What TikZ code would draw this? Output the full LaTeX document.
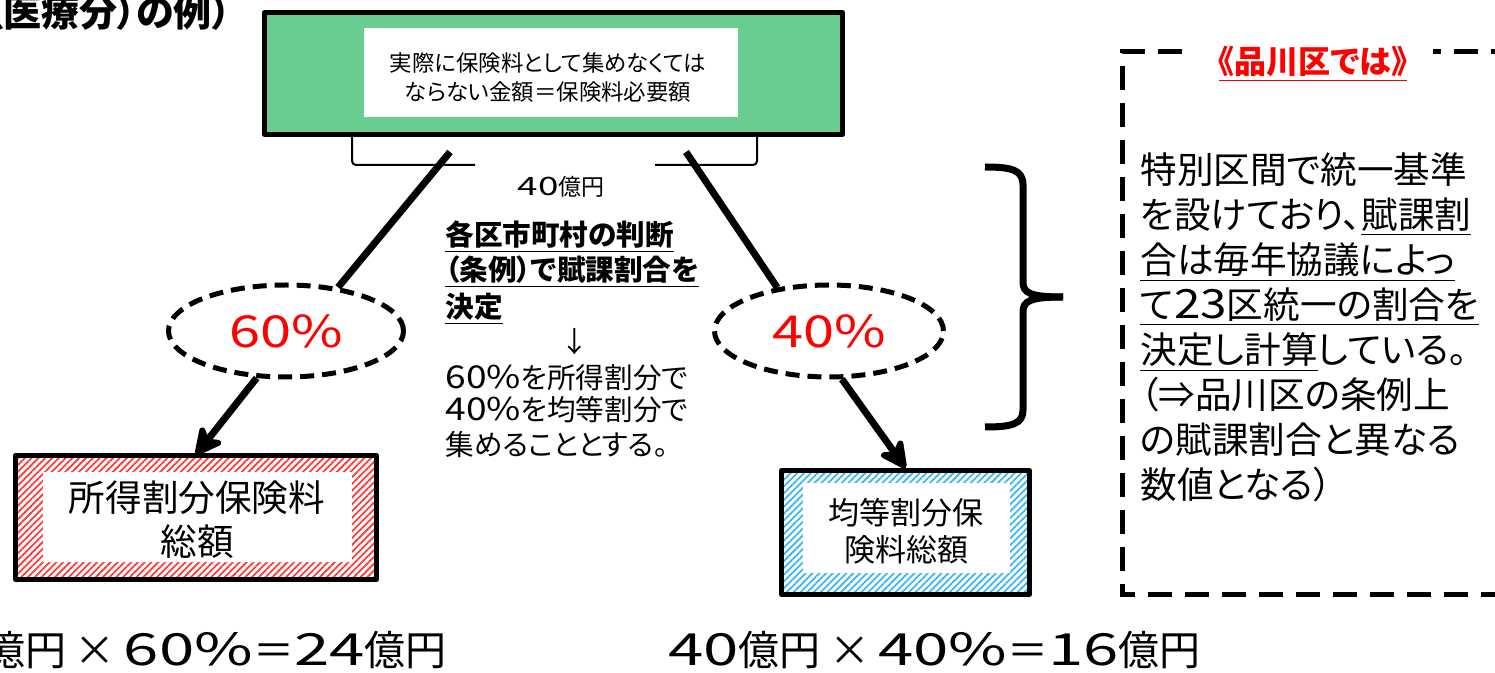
\documentclass[tikz,border=0pt]{standalone}
\usepackage{fontspec}
\setmainfont{Noto Sans CJK JP}[RawFeature=+palt]
\newfontfamily\jpmono{Noto Sans CJK JP}
\usetikzlibrary{shapes.geometric,arrows.meta,patterns.meta}
\definecolor{boxgreen}{RGB}{105,205,145}
\definecolor{hatchred}{RGB}{255,60,60}
\definecolor{hatchblue}{RGB}{60,185,235}
\newcommand{\myfs}[2]{\fontsize{#1}{#2}\selectfont}
\newcommand{\wdg}[2][1.6]{\scalebox{#1}[1.1]{#2}}
\newcommand{\wdgb}[1]{\scalebox{1.55}[1.08]{#1}}
\newcommand{\tms}{\kern0.2em×\kern0.2em}
\begin{document}
\begin{tikzpicture}[x=0.5pt,y=-0.5pt,
  frame/.style={draw=black,line width=2.5pt,inner sep=0pt,line join=round},
  pct/.style={ellipse,draw=black,line width=2.5pt,dash pattern=on 7pt off 4pt,inner sep=0pt,text=red,font=\jpmono\myfs{20}{24}},
  thickline/.style={line width=3.5pt},
  arr/.style={line width=3.5pt,-{Stealth[length=17pt,width=17pt,inset=5pt,round]}},
  txt/.style={anchor=base west,inner sep=0pt},
  midfont/.style={font=\myfs{14.3}{17}},
  midbold/.style={font=\bfseries\myfs{14.3}{17}},
  panelfont/.style={font=\myfs{18.3}{22}},
  calcfont/.style={inner sep=0pt,font=\jpmono\myfs{20.5}{24}},
  hatch/.style={pattern={Lines[angle=45,distance=2.4pt,line width=0.9pt]}},
  bracketline/.style={line width=1pt,rounded corners=2pt},
  panelline/.style={line width=2.5pt,dash pattern=on 12pt off 6.5pt},
  ]
\useasboundingbox (0,0) rectangle (1495,673);

% title (cut at left)
\node[txt,font=\bfseries\myfs{19}{22}] (title) at (-16,27) {（医療分）の例）};

% top box
\node[frame,fill=boxgreen,minimum width=289pt,minimum height=61pt] (top) at (553.5,73.5) {};
\fill[white] (364,28) rectangle (738,117);
\node[font=\myfs{11.2}{14.5},align=center,inner sep=0pt] (toptext) at (548,77.5) {実際に保険料として集めなくては\\ならない金額＝保険料必要額};

% bracket under the top box
\draw[bracketline] (352,137) -- (352,165) -- (475,165);
\draw[bracketline] (655,165) -- (757,165) -- (757,137);
\node[font=\jpmono\myfs{11.5}{14},inner sep=0pt] (amt) at (561,187) {\wdg{40}億円};

% ellipses
\node[pct,minimum width=117.5pt,minimum height=46pt] (e60) at (286,331) {\wdg[1.4]{60\%}};
\node[pct,minimum width=114.5pt,minimum height=46pt] (e40) at (829,331) {\wdg[1.4]{40\%}};

\coordinate (tl) at (450,152);
\coordinate (tr) at (686,152);
\draw[thickline] (tl) -- (e60.40);
\draw[thickline] (tr) -- (e40.140);

% result boxes
\node[frame,hatch,pattern color=hatchred,minimum width=180.5pt,minimum height=62pt] (lbox) at (196,517.5) {};
\fill[white] (43,472) rectangle (352,562);
\node[font=\myfs{18.3}{22},align=center,inner sep=0pt] (ltext) at (197,520) {所得割分保険料\\総額};

\node[frame,hatch,pattern color=hatchblue,minimum width=124pt,minimum height=62pt] (rbox) at (905.5,532.5) {};
\fill[white] (803,483) rectangle (1010,573);
\node[font=\myfs{15.5}{18.5},align=center,inner sep=0pt] (rtext) at (906,531.5) {均等割分保\\険料総額};

\draw[arr] (e60.238) -- (lbox.north);
\draw[arr] (e40.285) -- (rbox.north);

% middle text
\node[txt,midbold] (m1) at (445,246) {\underline{各区市町村の判断}};
\node[txt,midbold] (m2) at (445,281) {\underline{（条例）で賦課割合を}};
\node[txt,midbold] (m3) at (445,318) {\underline{決定}};
\node[anchor=base,inner sep=0pt,midfont] (m4) at (575,353) {↓};
\node[txt,midfont] (m5) at (445,389) {\wdg[1.3]{60\%}を所得割分で};
\node[txt,midfont] (m6) at (445,421) {\wdg[1.3]{40\%}を均等割分で};
\node[txt,midfont] (m7) at (445,456) {集めることとする。};

% brace
\draw[line width=3.5pt] (985,167) .. controls (1012,167) and (1023,170) .. (1023,185) -- (1023,282) .. controls (1023,293) and (1030,297) .. (1063,297);
\draw[line width=3.5pt] (1063,297) .. controls (1030,297) and (1023,301) .. (1023,312) -- (1023,410) .. controls (1023,424) and (1012,427) .. (985,427);

% dashed panel
\draw[panelline] (1515,52) -- (1122,52) -- (1122,595) -- (1515,595);
\node[fill=white,inner xsep=13pt,inner ysep=3pt,text=red,font=\bfseries\myfs{16}{18}] (ttl) at (1313,64) {\underline{《品川区では》}};

\node[txt,panelfont] (r1) at (1140,184) {特別区間で統一基準};
\node[txt,panelfont] (r2) at (1140,229) {を設けており、\underline{賦課割}};
\node[txt,panelfont] (r3) at (1140,274) {\underline{合は毎年協議によっ}};
\node[txt,panelfont] (r4) at (1140,319) {\underline{て\wdg[1.3]{23}区統一の割合を}};
\node[txt,panelfont] (r5) at (1140,364) {\underline{決定し計算}している。};
\node[txt,panelfont] (r6) at (1140,409) {（⇒品川区の条例上};
\node[txt,panelfont] (r7) at (1140,454) {の賦課割合と異なる};
\node[txt,panelfont] (r8) at (1140,499) {数値となる）};

% bottom calculations
\node[calcfont,anchor=base east] (calc1) at (447,665) {\wdgb{40}億円\tms\wdgb{60\%}＝\wdgb{24}億円};
\node[calcfont,anchor=base west] (calc2) at (668,665) {\wdgb{40}億円\tms\wdgb{40\%}＝\wdgb{16}億円};
\end{tikzpicture}
\end{document}
